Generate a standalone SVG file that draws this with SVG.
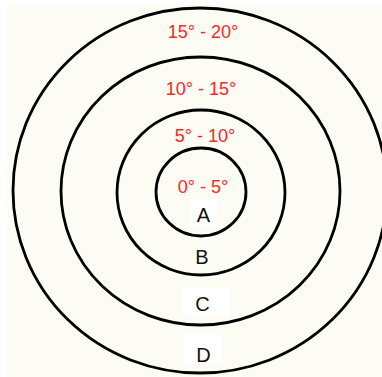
<svg xmlns="http://www.w3.org/2000/svg" width="382" height="377" viewBox="0 0 382 377">
<style>
.ring{fill:none;stroke:#000;stroke-width:2.8}
.deg{font-family:"Liberation Sans",Arial,sans-serif;font-size:18px;fill:#F42A2A;text-anchor:middle}
.zone{font-family:"Liberation Sans",Arial,sans-serif;font-size:20px;fill:#111;text-anchor:middle}
.box{fill:#FFFFFF}
</style>
<rect x="0" y="0" width="382" height="377" fill="#FFFFFF"/>
<rect x="7" y="5" width="375" height="372" fill="#FCFCF4"/>
<g id="ring-D">
<ellipse class="ring" cx="200" cy="190.5" rx="187" ry="182.5"/>
<text class="deg" x="203" y="38">15° - 20°</text>
<rect class="box" x="184" y="334" width="38" height="30"/>
<text class="zone" x="203.5" y="362">D</text>
</g>
<g id="ring-C">
<ellipse class="ring" cx="200.5" cy="191" rx="139.5" ry="134"/>
<text class="deg" x="201" y="95">10° - 15°</text>
<rect class="box" x="182" y="288" width="48" height="28"/>
<text class="zone" x="202.5" y="311">C</text>
</g>
<g id="ring-B">
<ellipse class="ring" cx="201" cy="192.5" rx="84" ry="82.5"/>
<text class="deg" x="205" y="142">5° - 10°</text>
<text class="zone" x="202" y="264">B</text>
</g>
<g id="ring-A">
<ellipse class="ring" cx="201" cy="192" rx="45" ry="44"/>
<text class="deg" x="203" y="193">0° - 5°</text>
<rect class="box" x="190" y="200" width="27" height="27"/>
<text class="zone" x="203.5" y="222">A</text>
</g>
<g id="connectors"/>
</svg>
